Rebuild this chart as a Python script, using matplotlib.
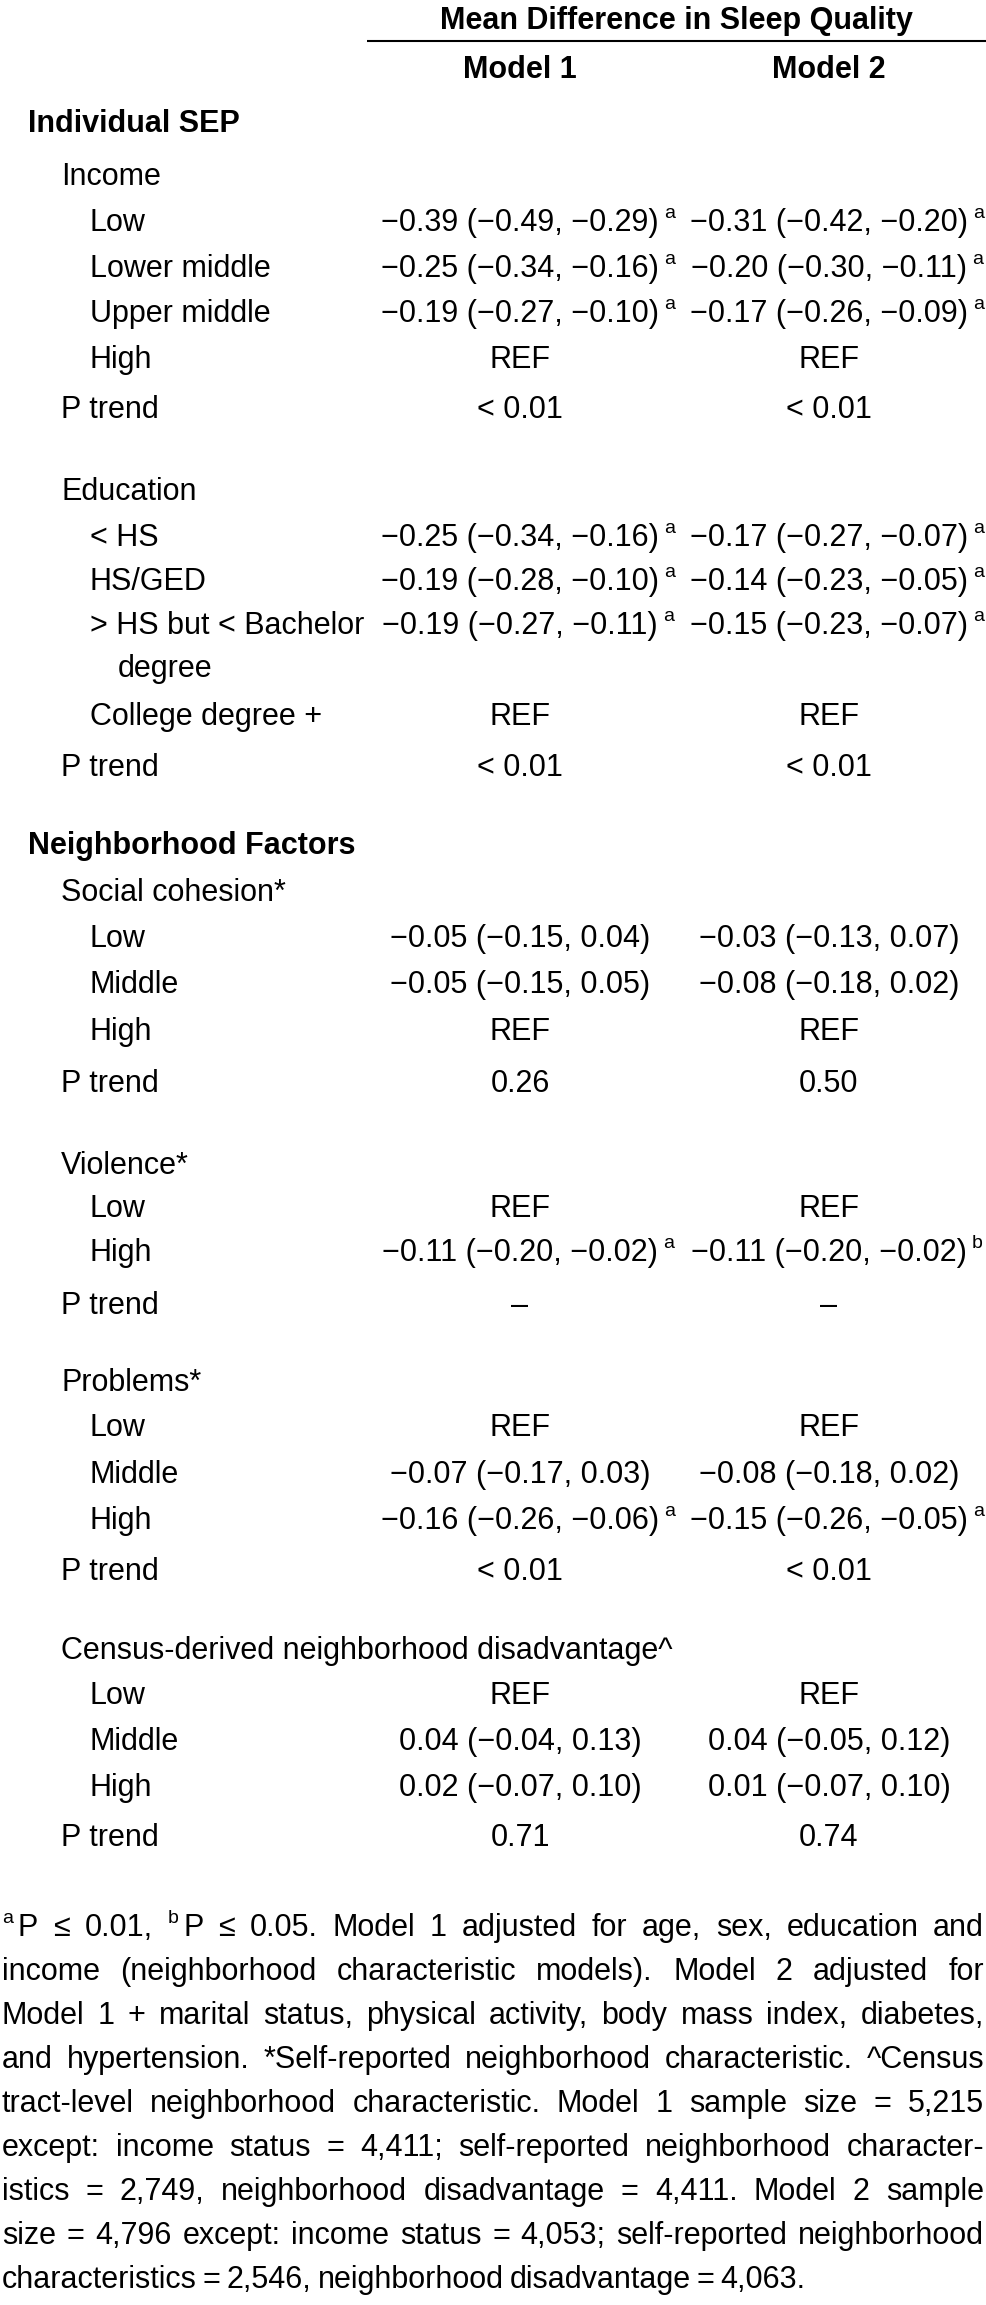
import matplotlib
matplotlib.use("Agg")
import matplotlib.pyplot as plt

plt.rcParams["font.family"] = ["Liberation Sans", "DejaVu Sans"]

# ---- table content ----
header_title = "Mean Difference in Sleep Quality"
model_names = ["Model 1", "Model 2"]

row_labels = [
    "Individual SEP",
    "Income", "Low", "Lower middle", "Upper middle", "High", "P trend",
    "Education", "< HS", "HS/GED", "> HS but < Bachelor", "degree", "College degree +", "P trend",
    "Neighborhood Factors",
    "Social cohesion*", "Low", "Middle", "High", "P trend",
    "Violence*", "Low", "High", "P trend",
    "Problems*", "Low", "Middle", "High", "P trend",
    "Census-derived neighborhood disadvantage^", "Low", "Middle", "High", "P trend",
]
# 0 = section, 1 = group, 2 = category, 3 = wrapped category text
row_levels = [0,
              1, 2, 2, 2, 2, 1,
              1, 2, 2, 2, 3, 2, 1,
              0,
              1, 2, 2, 2, 1,
              1, 2, 2, 1,
              1, 2, 2, 2, 1,
              1, 2, 2, 2, 1]

model1_vals = ["",
               "", "−0.39 (−0.49, −0.29)", "−0.25 (−0.34, −0.16)", "−0.19 (−0.27, −0.10)", "REF", "< 0.01",
               "", "−0.25 (−0.34, −0.16)", "−0.19 (−0.28, −0.10)", "−0.19 (−0.27, −0.11)", "", "REF", "< 0.01",
               "",
               "", "−0.05 (−0.15, 0.04)", "−0.05 (−0.15, 0.05)", "REF", "0.26",
               "", "REF", "−0.11 (−0.20, −0.02)", "–",
               "", "REF", "−0.07 (−0.17, 0.03)", "−0.16 (−0.26, −0.06)", "< 0.01",
               "", "REF", "0.04 (−0.04, 0.13)", "0.02 (−0.07, 0.10)", "0.71"]
model1_sup = ["",
              "", "a", "a", "a", "", "",
              "", "a", "a", "a", "", "", "",
              "",
              "", "", "", "", "",
              "", "", "a", "",
              "", "", "", "a", "",
              "", "", "", "", ""]

model2_vals = ["",
               "", "−0.31 (−0.42, −0.20)", "−0.20 (−0.30, −0.11)", "−0.17 (−0.26, −0.09)", "REF", "< 0.01",
               "", "−0.17 (−0.27, −0.07)", "−0.14 (−0.23, −0.05)", "−0.15 (−0.23, −0.07)", "", "REF", "< 0.01",
               "",
               "", "−0.03 (−0.13, 0.07)", "−0.08 (−0.18, 0.02)", "REF", "0.50",
               "", "REF", "−0.11 (−0.20, −0.02)", "–",
               "", "REF", "−0.08 (−0.18, 0.02)", "−0.15 (−0.26, −0.05)", "< 0.01",
               "", "REF", "0.04 (−0.05, 0.12)", "0.01 (−0.07, 0.10)", "0.74"]
model2_sup = ["",
              "", "a", "a", "a", "", "",
              "", "a", "a", "a", "", "", "",
              "",
              "", "", "", "", "",
              "", "", "b", "",
              "", "", "", "a", "",
              "", "", "", "", ""]

# {x} marks a superscript
footnote_lines = [
    "{a}P ≤ 0.01, {b}P ≤ 0.05. Model 1 adjusted for age, sex, education and",
    "income (neighborhood characteristic models). Model 2 adjusted for",
    "Model 1 + marital status, physical activity, body mass index, diabetes,",
    "and hypertension. *Self-reported neighborhood characteristic. ^Census",
    "tract-level neighborhood characteristic. Model 1 sample size = 5,215",
    "except: income status = 4,411; self-reported neighborhood character-",
    "istics = 2,749, neighborhood disadvantage = 4,411. Model 2 sample",
    "size = 4,796 except: income status = 4,053; self-reported neighborhood",
    "characteristics = 2,546, neighborhood disadvantage = 4,063.",
]

# ---- layout (pixels from top-left) ----
W, H = 986, 2305
FS = 22
SUP_FS = 14
row_y = [121,
         174, 220, 266, 311, 357, 407,
         489, 535, 579, 623, 666, 714, 765,
         843,
         890, 936, 982, 1029, 1081,
         1163, 1206, 1250, 1303,
         1380, 1425, 1472, 1518, 1569,
         1648, 1693, 1739, 1785, 1835]
level_x = [28, 61, 90, 118]
col_x = [520, 829]
half_cap = 11
foot_y0, foot_dy = 1925, 44
foot_left, foot_right = 2, 984

fig = plt.figure(figsize=(W / 100, H / 100), dpi=100)
ax = fig.add_axes([0, 0, 1, 1])
ax.set_xlim(0, W)
ax.set_ylim(H, 0)
ax.axis("off")
renderer = fig.canvas.get_renderer()


def text_width(t):
    return t.get_window_extent(renderer).width


# header
ax.text(676, 18 + half_cap, header_title, fontsize=FS, fontweight="bold",
        ha="center", va="baseline")
ax.plot([367, W], [41, 41], color="black", lw=1.5, solid_capstyle="butt")
for cx, name in zip(col_x, model_names):
    ax.text(cx, 67 + half_cap, name, fontsize=FS, fontweight="bold",
            ha="center", va="baseline")

# body rows
for i, label in enumerate(row_labels):
    yb = row_y[i] + half_cap
    lvl = row_levels[i]
    ax.text(level_x[lvl], yb, label, fontsize=FS,
            fontweight="bold" if lvl == 0 else "normal", ha="left", va="baseline")
    for cx, vals, sups in ((col_x[0], model1_vals, model1_sup),
                           (col_x[1], model2_vals, model2_sup)):
        if not vals[i]:
            continue
        t = ax.text(cx, yb, vals[i], fontsize=FS, ha="center", va="baseline")
        if sups[i]:
            bb = t.get_window_extent(renderer)
            ax.text(bb.x1 + 5, yb - 13, sups[i], fontsize=SUP_FS,
                    ha="left", va="baseline")


# footnote, justified
def parse_word(w):
    segs = []
    while w.startswith("{"):
        end = w.index("}")
        segs.append((w[1:end], True))
        w = w[end + 1:]
    segs.append((w, False))
    return segs


SUP_GAP = 5
for k, line in enumerate(footnote_lines):
    yb = foot_y0 + k * foot_dy + half_cap
    words = [parse_word(w) for w in line.split(" ")]
    widths = []
    for segs in words:
        total = 0
        for s, sup in segs:
            t = ax.text(0, 0, s, fontsize=SUP_FS if sup else FS)
            total += text_width(t) + (SUP_GAP if sup else 0)
            t.remove()
        widths.append(total)
    if k < len(footnote_lines) - 1:
        gap = (foot_right - foot_left - sum(widths)) / (len(words) - 1)
    else:
        gap = 6
    x = foot_left
    for segs, wd in zip(words, widths):
        xx = x
        for s, sup in segs:
            t = ax.text(xx, yb - (13 if sup else 0), s, fontsize=SUP_FS if sup else FS,
                        ha="left", va="baseline")
            xx += text_width(t) + (SUP_GAP if sup else 0)
        x += wd + gap

fig.savefig("out.png", dpi=100, facecolor="white")
